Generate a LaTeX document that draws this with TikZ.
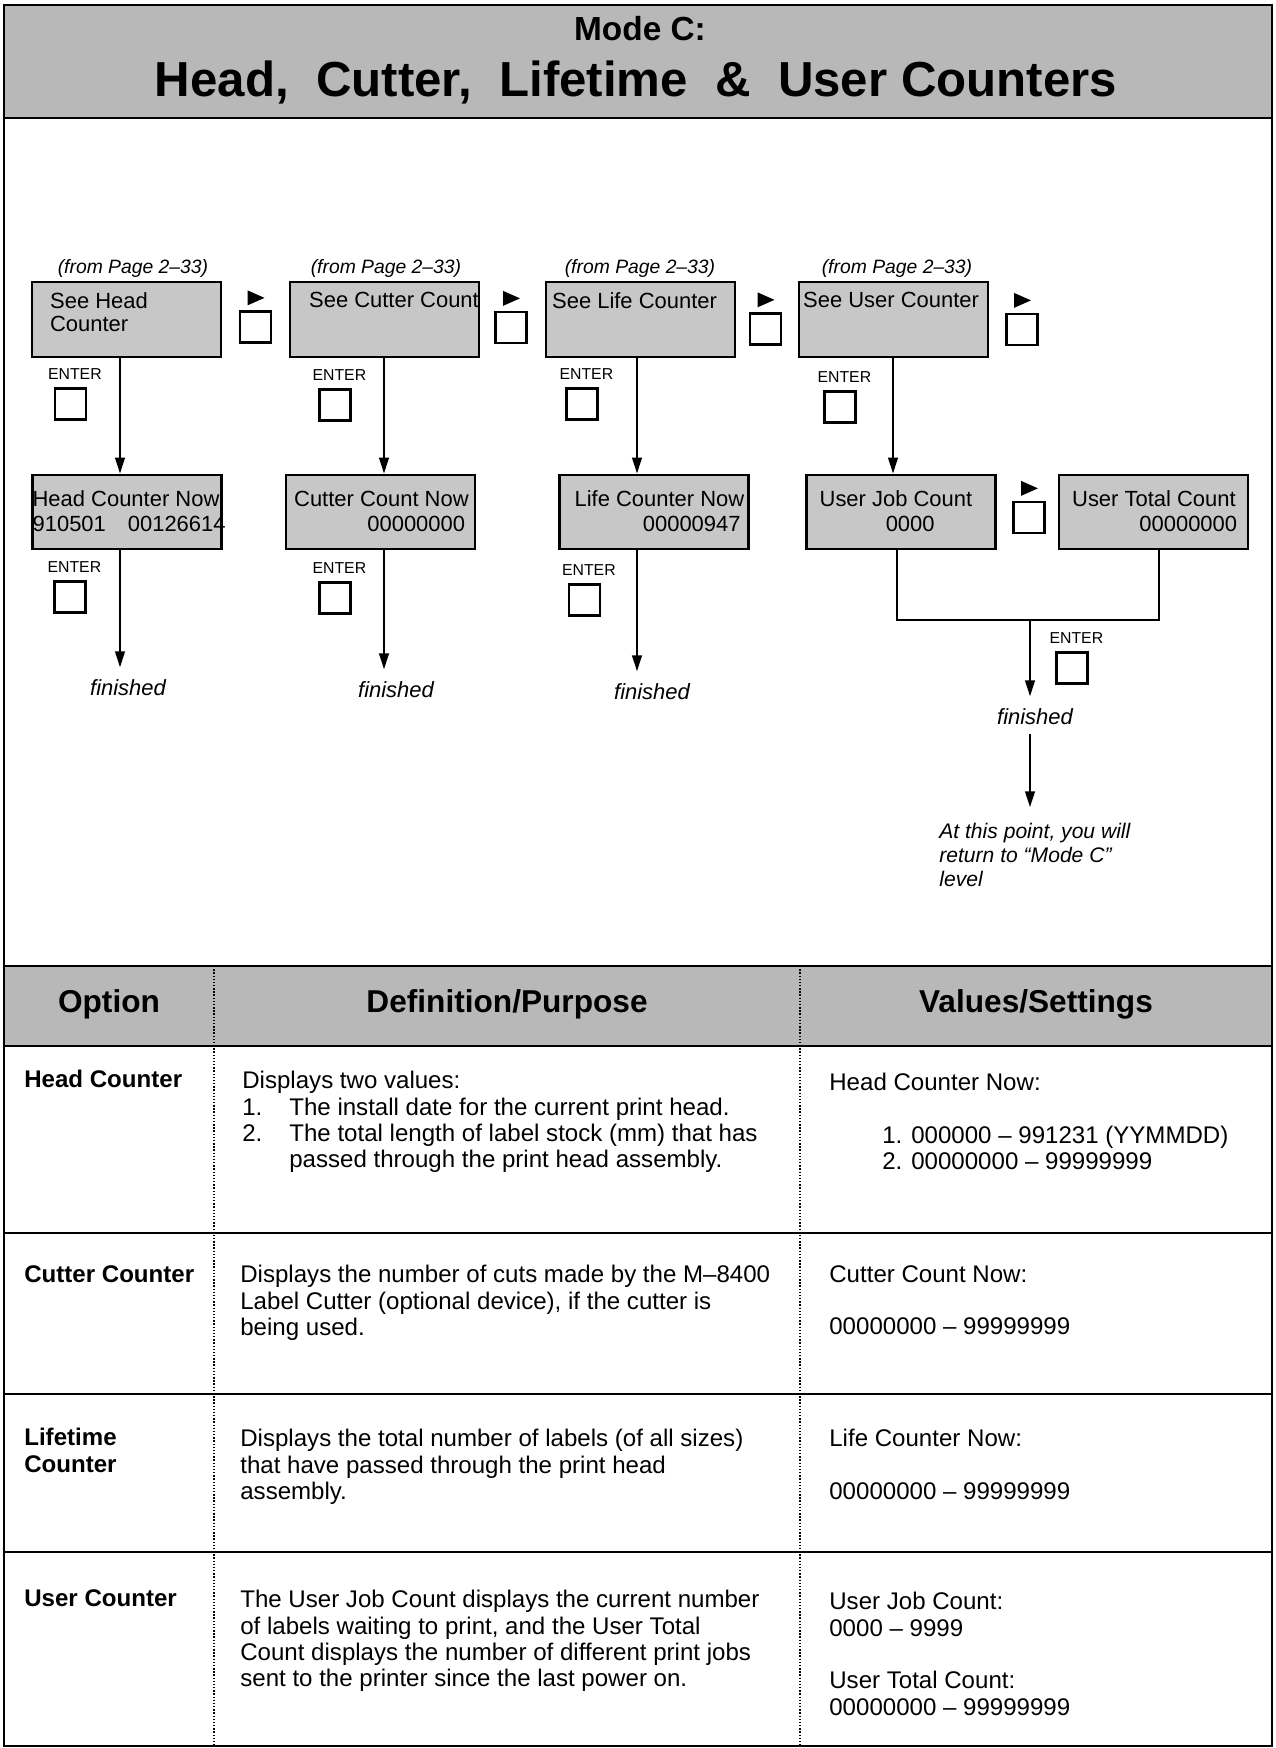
\documentclass[tikz,border=0pt]{standalone}
\usepackage{fontspec}
\setmainfont{Liberation Sans}
\usetikzlibrary{positioning, calc, arrows.meta}

\begin{document}
\begin{tikzpicture}[x=0.02cm, y=-0.02cm,
    border/.style={line width=1.6pt},
    greyband/.style={fill=black!28},
    lcd/.style={rectangle, draw, line width=1.4pt, fill=black!22,
                minimum width=3.78cm, minimum height=1.49cm, inner sep=0pt},
    lcdtext/.style={anchor=north west, inner sep=0pt, align=left,
                    font=\fontsize{12.5}{13}\selectfont},
    btn/.style={rectangle, draw, line width=1.3pt, fill=white,
                minimum size=0.62cm, inner sep=0pt},
    enterlbl/.style={inner sep=0pt, font=\fontsize{9}{10}\selectfont},
    frompage/.style={font=\itshape\fontsize{11}{13}\selectfont},
    finlbl/.style={inner sep=0pt, font=\itshape\fontsize{12.5}{14}\selectfont},
    flow/.style={line width=1.1pt, -{Triangle[length=9pt, width=5.5pt]}},
    colhead/.style={font=\bfseries\fontsize{18}{20}\selectfont},
    tcell/.style={anchor=north west, inner sep=0pt, align=left,
                  font=\fontsize{13.7}{15}\selectfont},
    optcell/.style={tcell, font=\bfseries\fontsize{13.7}{15}\selectfont},
    rowline/.style={line width=1.4pt},
    colline/.style={line width=0.8pt, densely dotted}
  ]
  \useasboundingbox (0,0) rectangle (1275,1748);

  % title band
  \fill[greyband] (4,5) rectangle (1272,118);
  \draw[border] (4,118) -- (1272,118);
  \node[font=\bfseries\fontsize{19}{21}\selectfont] (mode) at (640,29) {Mode C:};
  \node[font=\bfseries\fontsize{28}{30}\selectfont] (ttl) at (636,82)
    {Head,\ \ Cutter,\ \ Lifetime\ \ \&\ \ User Counters};

  % flow: first row
  \node[frompage] (fp1) at (133,268) {(from Page 2–33)};
  \node[frompage] (fp2) at (386,268) {(from Page 2–33)};
  \node[frompage] (fp3) at (640,268) {(from Page 2–33)};
  \node[frompage] (fp4) at (897,268) {(from Page 2–33)};

  \node[lcd] (hc) at (126.5,319.5) {};
  \node[lcd] (cc) at (384.5,319.5) {};
  \node[lcd] (lc) at (640.5,319.5) {};
  \node[lcd] (uc) at (893.5,319.5) {};
  \node[lcdtext] (hct) at ($(hc.north west)+(19,11)$) {See Head\\Counter};
  \node[lcdtext] (cct) at ($(cc.north west)+(20,11)$) {See Cutter Count};
  \node[lcdtext] (lct) at ($(lc.north west)+(7,11)$) {See Life Counter};
  \node[lcdtext] (uct) at ($(uc.north west)+(5,11)$) {See User Counter};

  % flow: second row
  \node[lcd] (hcn) at (127,512) {};
  \node[lcd] (ccn) at (380.5,512) {};
  \node[lcd] (lcn) at (654,512) {};
  \node[lcd] (ujc) at (901,512) {};
  \node[lcd] (utc) at (1153.5,512) {};
  \begin{scope}[lcdtext/.append style={font=\fontsize{12.5}{14.2}\selectfont}]
    \node[lcdtext] (hcnt) at ($(hcn.north west)+(1,17)$)
      {Head Counter Now\\910501\hspace{1em}00126614};
    \node[lcdtext] (ccnt) at ($(ccn.north west)+(9,17)$)
      {Cutter Count Now\\\makebox[3.42cm][r]{00000000}};
    \node[lcdtext] (lcnt) at ($(lcn.north west)+(16,17)$)
      {Life Counter Now\\\makebox[3.32cm][r]{00000947}};
    \node[lcdtext] (ujct) at ($(ujc.north west)+(14,17)$)
      {User Job Count\\\makebox[2.3cm][r]{0000}};
    \node[lcdtext] (utct) at ($(utc.north west)+(14,17)$)
      {User Total Count\\\makebox[3.3cm][r]{00000000}};
  \end{scope}

  % right-arrow keys
  \foreach \n/\x/\y in {rt1/255.5/327, rt2/511/327.5, rt3/765.5/329,
                        rt4/1022/329.5, rt5/1029/517.5} {
    \node[btn] (\n) at (\x,\y) {};
    \fill ($(\n.north)+(-8,-5)$) -- ++(0,-15) -- ++(17,7.5) -- cycle;
  }

  % ENTER keys
  \foreach \n/\x/\y in {ek1/70.5/404, ek2/335/405, ek3/582/404, ek4/840/407,
                        ek5/70/597, ek6/335/598, ek7/584.5/600, ek8/1072/668} {
    \node[btn] (\n) at (\x,\y) {};
    \node[enterlbl, above=4pt of \n.north, xshift=2.5pt] (\n-l) {ENTER};
  }

  % finished labels
  \node[finlbl] (fin1) at (128,688) {finished};
  \node[finlbl] (fin2) at (396,690) {finished};
  \node[finlbl] (fin3) at (652,692) {finished};
  \node[finlbl] (fin4) at (1035,717) {finished};
  \node[anchor=north west, inner sep=0pt, align=left,
        font=\itshape\fontsize{12}{13.6}\selectfont] (ret) at (939,823)
    {At this point, you will\\return to “Mode C”\\level};

  % connectors
  \coordinate (c1) at (120,0);
  \coordinate (c2) at (384,0);
  \coordinate (c3) at (637,0);
  \coordinate (c4) at (893,0);
  \draw[flow] (hc.south -| c1) -- (hcn.north -| c1);
  \draw[flow] (cc.south -| c2) -- (ccn.north -| c2);
  \draw[flow] (lc.south -| c3) -- (lcn.north -| c3);
  \draw[flow] (uc.south -| c4) -- (ujc.north -| c4);
  \draw[flow, shorten >=7pt] (hcn.south -| c1) -- (fin1.north -| c1);
  \draw[flow, shorten >=7pt] (ccn.south -| c2) -- (fin2.north -| c2);
  \draw[flow, shorten >=7pt] (lcn.south -| c3) -- (fin3.north -| c3);

  \coordinate (jl) at (897,620);
  \coordinate (jr) at (1159,620);
  \coordinate (jn) at (1030,620);
  \draw[line width=1.1pt] (ujc.south -| jl) -- (jl) -- (jr) -- (utc.south -| jr);
  \draw[flow, shorten >=7pt] (jn) -- (fin4.north -| jn);
  \draw[flow, shorten <=5pt, shorten >=9pt] (fin4.south -| jn) -- (ret.north -| jn);

  % table
  \fill[greyband] (4,966) rectangle (1272,1046);
  \draw[border] (4,966) -- (1272,966);
  \draw[border] (4,1046) -- (1272,1046);
  \foreach \y in {1233,1394,1552}
    \draw[rowline] (4,\y) -- (1272,\y);
  \foreach \x in {214,800}
    \draw[colline] (\x,966) -- (\x,1746);

  \node[colhead] (hOpt) at (109,1004) {Option};
  \node[colhead] (hDef) at (507,1004) {Definition/Purpose};
  \node[colhead] (hVal) at (1036,1004) {Values/Settings};

  \node[optcell] (oHead) at (24,1070) {Head Counter};
  \node[tcell] (dHead) at (242,1071)
    {Displays two values:\\
     \makebox[0.94cm][l]{1.}The install date for the current print head.\\
     \makebox[0.94cm][l]{2.}The total length of label stock (mm) that has\\
     \hspace*{0.94cm}passed through the print head assembly.};
  \node[tcell] (vHead) at (829,1073)
    {Head Counter Now:\\[15pt]
     \hspace*{1.06cm}1. 000000 – 991231 (YYMMDD)\\
     \hspace*{1.06cm}2. 00000000 – 99999999};

  \node[optcell] (oCut) at (24,1265) {Cutter Counter};
  \node[tcell] (dCut) at (240,1265)
    {Displays the number of cuts made by the M–8400\\
     Label Cutter (optional device), if the cutter is\\
     being used.};
  \node[tcell] (vCut) at (829,1265)
    {Cutter Count Now:\\[15pt]00000000 – 99999999};

  \node[optcell] (oLife) at (24,1428) {Lifetime\\Counter};
  \node[tcell] (dLife) at (240,1429)
    {Displays the total number of labels (of all sizes)\\
     that have passed through the print head\\
     assembly.};
  \node[tcell] (vLife) at (829,1429)
    {Life Counter Now:\\[15pt]00000000 – 99999999};

  \node[optcell] (oUser) at (24,1589) {User Counter};
  \node[tcell] (dUser) at (240,1590)
    {The User Job Count displays the current number\\
     of labels waiting to print, and the User Total\\
     Count displays the number of different print jobs\\
     sent to the printer since the last power on.};
  \node[tcell] (vUser) at (829,1592)
    {User Job Count:\\0000 – 9999\\[15pt]User Total Count:\\00000000 – 99999999};

  % outer frame
  \draw[border] (4,5) rectangle (1272,1746);
\end{tikzpicture}
\end{document}
